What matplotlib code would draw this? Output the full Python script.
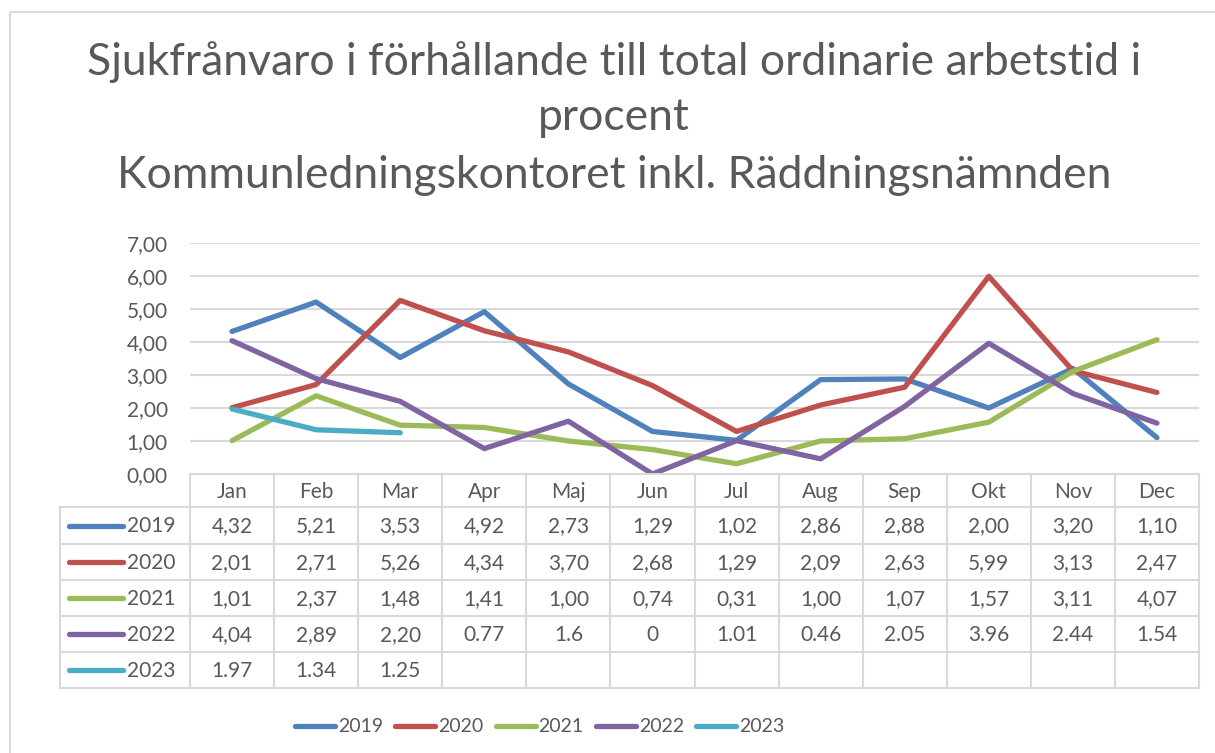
import matplotlib
matplotlib.use("Agg")
import matplotlib.pyplot as plt
from matplotlib.patches import Rectangle

plt.rcParams['font.family'] = ['Lato', 'DejaVu Sans']

months = ["Jan", "Feb", "Mar", "Apr", "Maj", "Jun", "Jul", "Aug", "Sep", "Okt", "Nov", "Dec"]
years = ["2019", "2020", "2021", "2022", "2023"]
colors = ["#4F81BD", "#C0504D", "#9BBB59", "#8064A2", "#4BACC6"]

s2019 = ["4,32", "5,21", "3,53", "4,92", "2,73", "1,29", "1,02", "2,86", "2,88", "2,00", "3,20", "1,10"]
s2020 = ["2,01", "2,71", "5,26", "4,34", "3,70", "2,68", "1,29", "2,09", "2,63", "5,99", "3,13", "2,47"]
s2021 = ["1,01", "2,37", "1,48", "1,41", "1,00", "0,74", "0,31", "1,00", "1,07", "1,57", "3,11", "4,07"]
s2022 = ["4,04", "2,89", "2,20", "0.77", "1.6", "0", "1.01", "0.46", "2.05", "3.96", "2.44", "1.54"]
s2023 = ["1.97", "1.34", "1.25"]
series_text = [s2019, s2020, s2021, s2022, s2023]
series_vals = [[float(s.replace(",", ".")) for s in st] for st in series_text]

yticks = [0, 1, 2, 3, 4, 5, 6, 7]
ytick_labels = ["0,00", "1,00", "2,00", "3,00", "4,00", "5,00", "6,00", "7,00"]

W, H = 1215, 753
fig = plt.figure(figsize=(W / 100, H / 100), dpi=100)
txt = "#595959"
grid = "#D9D9D9"

ov = fig.add_axes([0, 0, 1, 1])
ov.set_xlim(0, W)
ov.set_ylim(H, 0)
ov.axis("off")
ov.add_patch(Rectangle((10, 12), W + 20, H + 20, fill=False, edgecolor="#D9D9D9", lw=1.5))

L, R, T, B = 190, 1199, 243, 474
ax = fig.add_axes([L / W, 1 - B / H, (R - L) / W, (B - T) / H])
ax.set_xlim(-0.5, 11.5)
ax.set_ylim(0, 7)
ax.set_yticks(yticks)
ax.set_yticklabels(ytick_labels, fontsize=15, color=txt)
ax.set_xticks([])
ax.tick_params(axis="y", length=0, pad=16)
for sp in ["top", "right", "left"]:
    ax.spines[sp].set_visible(False)
ax.spines["bottom"].set_color(grid)
ax.spines["bottom"].set_linewidth(1.5)
ax.grid(axis="y", color=grid, lw=1.5)
ax.set_axisbelow(True)
ax.patch.set_alpha(0)

for vals, c in zip(series_vals, colors):
    ax.plot(range(len(vals)), vals, color=c, lw=3.8, solid_capstyle="round", solid_joinstyle="round")

tfs = 32
fig.text(614 / W, 1 - 62 / H, "Sjukfrånvaro i förhållande till total ordinarie arbetstid i",
         ha="center", va="center", fontsize=tfs, color=txt)
fig.text(614 / W, 1 - 118 / H, "procent", ha="center", va="center", fontsize=tfs, color=txt)
fig.text(614 / W, 1 - 175 / H, "Kommunledningskontoret inkl. Räddningsnämnden",
         ha="center", va="center", fontsize=tfs, color=txt)

colw = (R - L) / 12
rows_y = [474, 507, 544, 580, 616, 652, 688]
lw_t = 1.5
for y in rows_y[1:]:
    ov.plot([60, R], [y, y], color=grid, lw=lw_t)
ov.plot([60, 60], [rows_y[1], rows_y[-1]], color=grid, lw=lw_t)
for i in range(13):
    x = L + i * colw
    ov.plot([x, x], [rows_y[0], rows_y[-1]], color=grid, lw=lw_t)
for i, m in enumerate(months):
    ov.text(L + (i + 0.5) * colw, (rows_y[0] + rows_y[1]) / 2 + 1, m, ha="center", va="center",
            fontsize=15, color=txt)
for r, (yr, c, st) in enumerate(zip(years, colors, series_text)):
    yc = (rows_y[r + 1] + rows_y[r + 2]) / 2
    ov.plot([69, 123], [yc, yc], color=c, lw=3.8, solid_capstyle="round")
    ov.text(127, yc + 1, yr, ha="left", va="center", fontsize=15, color=txt)
    for i, s in enumerate(st):
        ov.text(L + (i + 0.5) * colw, yc + 1, s, ha="center", va="center", fontsize=15, color=txt)

lx0 = 295
for k, (yr, c) in enumerate(zip(years, colors)):
    x = lx0 + k * 100.3
    ov.plot([x, x + 40], [726, 726], color=c, lw=3.8, solid_capstyle="round")
    ov.text(x + 43, 727, yr, ha="left", va="center", fontsize=14, color=txt)

fig.savefig("out.png", dpi=100)
